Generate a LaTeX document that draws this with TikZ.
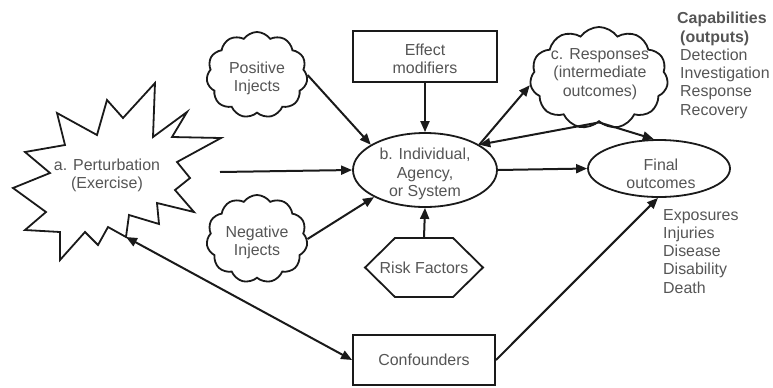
\documentclass[tikz,border=0pt]{standalone}
\usepackage{fontspec}
\setmainfont{Liberation Sans}
\usetikzlibrary{arrows.meta,shapes.geometric,shapes.symbols}
\definecolor{txt}{HTML}{555555}
\definecolor{ln}{HTML}{1A1A1A}
\begin{document}
\begin{tikzpicture}[x=1bp,y=-1bp,
  every node/.style={font=\fontsize{16}{18.3}\selectfont, text=txt, align=center, inner sep=0pt},
  shp/.style={draw=ln, line width=1.8bp, fill=white},
  tip/.tip={Triangle[length=11bp,width=9bp]},
  arr/.style={draw=ln, line width=2bp, -tip},
  darr/.style={draw=ln, line width=2bp, tip-tip},
  cl/.style={shp, cloud, cloud puffs=11, cloud puff arc=110, cloud ignores aspect},
  boxnode/.style={shp, rectangle},
  ell/.style={shp, ellipse}
]
\useasboundingbox (0,0) rectangle (773,387);

% starburst
\draw[shp, line join=miter] (155,83) -- (153,137) -- (187,112) -- (172,137) -- (221,138)
  -- (177,162) -- (190,178) -- (175,190) -- (194,212) -- (157,203) -- (159,224)
  -- (129,215) -- (126,237) -- (108,227) -- (98,245) -- (85,232) -- (60,260)
  -- (60,232) -- (25,230) -- (46,212) -- (13,188) -- (50,173) -- (25,152)
  -- (65,145) -- (57,113) -- (97,135) -- (107,100) -- (123,118) -- cycle;
\node (a) at (107,175) {a. Perturbation\\(Exercise)};
\coordinate (aR) at (220,172);
\coordinate (aB) at (126,237);

\node[cl, minimum width=101bp, minimum height=86bp] (pos) at (257,75) {};
\node (post) at (257,78) {Positive\\Injects};
\node[cl, minimum width=101bp, minimum height=88bp] (neg) at (257,239) {};
\node (negt) at (257,242) {Negative\\Injects};
\node[boxnode, minimum width=144bp, minimum height=51bp] (eff) at (425,56.5) {};
\node (efft) at (425,58.5) {Effect\\modifiers};
\node[ell, minimum width=144bp, minimum height=74bp] (b) at (425,170) {};
\node (bt) at (425,174) {b. Individual,\\Agency,\\or System};
\node[cl, minimum width=138bp, minimum height=102bp] (c) at (599,78) {};
\node (ct) at (600,74) {c. Responses\\(intermediate\\outcomes)};
\node[ell, minimum width=142bp, minimum height=57bp] (fin) at (659,168.5) {};
\node (fint) at (661,173.5) {Final\\outcomes};

\draw[shp, line join=miter] (365,267.5) -- (395,238) -- (453,238) -- (483,267.5) -- (453,297) -- (395,297) -- cycle;
\node[minimum width=118bp, minimum height=59bp] (risk) at (424,267.5) {Risk Factors};
\node[boxnode, minimum width=142bp, minimum height=50bp] (conf) at (424,360) {Confounders};

\node[anchor=base west, align=left] (caps) at (680,115) {\hspace*{-3bp}\textbf{Capabilities}\\\textbf{(outputs)}\\Detection\\Investigation\\Response\\Recovery};
\node[anchor=base west, align=left] (outs) at (663,293) {Exposures\\Injuries\\Disease\\Disability\\Death};

\draw[arr] (aR) -- (b.west);
\draw[arr] (pos.east) -- (b.155);
\draw[arr] (neg.east) -- (b.208);
\draw[arr] (eff.south) -- (b.north);
\draw[arr] (risk.north) -- (b.south);
\draw[arr] (b.east) -- (fin.west);
\draw[arr] (b.25) -- (c.186);
\draw[arr] (c.south) -- (b.25);
\draw[arr] (c.south) -- (fin.100);
\draw[darr] (aB) -- (conf.west);
\draw[arr] (conf.east) -- (fin.-92);
\end{tikzpicture}
\end{document}
